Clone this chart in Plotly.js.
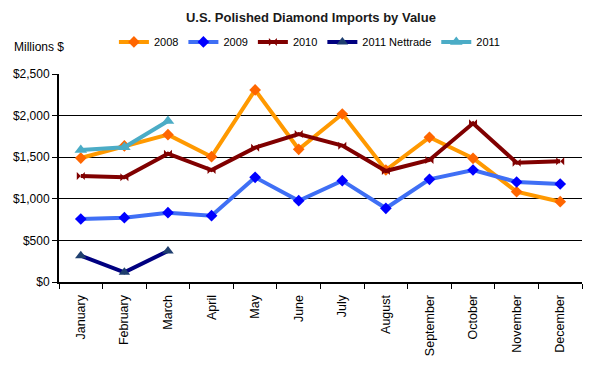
<!DOCTYPE html>
<html>
<head>
<meta charset="utf-8">
<script src="https://cdn.plot.ly/plotly-3.0.1.min.js"></script>
<style>html,body{margin:0;padding:0;background:#fff;}#chart{width:590px;height:370px;}</style>
</head>
<body>
<div id="chart"></div>
<script>
const months = ["January","February","March","April","May","June","July","August","September","October","November","December"];
const v2008 = [1490, 1635, 1771, 1506, 2308, 1595, 2019, 1346, 1739, 1487, 1085, 965];
const v2009 = [757, 773, 833, 797, 1258, 977, 1218, 886, 1234, 1346, 1202, 1178];
const v2010 = [1274, 1258, 1542, 1346, 1615, 1779, 1639, 1334, 1466, 1907, 1434, 1450];
const v2011Net = [316, 117, 373];
const v2011 = [1587, 1619, 1935];
const yTicks = [0, 500, 1000, 1500, 2000, 2500];
const yTickText = ["$0", "$500", "$1,000", "$1,500", "$2,000", "$2,500"];

function series(name, y, lineColor, markerColor, symbol, size) {
  return {
    type: "scatter", mode: "lines+markers", name: name,
    x: months.slice(0, y.length), y: y,
    line: {color: lineColor, width: 4},
    marker: {color: markerColor, symbol: symbol, size: size, line: {width: 0}},
    cliponaxis: false
  };
}
const traces = [
  series("2008", v2008, "#FF9900", "#FF6600", "diamond", 9),
  series("2009", v2009, "#3F6FF5", "#0000FF", "diamond", 9),
  series("2010", v2010, "#800000", "#800000", "bowtie", 8),
  series("2011 Nettrade", v2011Net, "#000080", "#1F3F6F", "triangle-up", 10),
  series("2011", v2011, "#4BACC6", "#4BACC6", "triangle-up", 11)
];
const layout = {
  width: 590, height: 370,
  margin: {l: 59, r: 8, t: 74, b: 88},
  paper_bgcolor: "#fff", plot_bgcolor: "#fff",
  font: {family: "Arial, Liberation Sans, sans-serif", color: "#000", size: 12},
  title: {text: "<b>U.S. Polished Diamond Imports by Value</b>", x: 0.527, xanchor: "center", y: 0.954, yanchor: "middle", font: {size: 13, color: "#1a1a1a"}},
  showlegend: true,
  legend: {orientation: "h", x: 0.105, xanchor: "left", y: 1.154, yanchor: "middle", font: {size: 11}, itemwidth: 30, tracegroupgap: 0, bgcolor: "rgba(0,0,0,0)"},
  hovermode: false,
  xaxis: {
    type: "category", categoryorder: "array", categoryarray: months,
    range: [-0.5, 11.5],
    showline: true, linecolor: "#000", linewidth: 2,
    ticks: "outside", tickson: "boundaries", ticklen: 5, tickcolor: "#000", tickwidth: 1,
    tickangle: -90, tickfont: {size: 12.5}, ticklabelstandoff: 6, showgrid: false, zeroline: false
  },
  yaxis: {
    range: [0, 2500], tickvals: yTicks, ticktext: yTickText,
    showline: true, linecolor: "#000", linewidth: 2,
    ticks: "outside", ticklen: 5, tickcolor: "#000",
    showgrid: true, gridcolor: "#000", gridwidth: 1, zeroline: false,
    tickfont: {size: 12}
  },
  annotations: [
    {text: "Millions $", xref: "paper", yref: "paper", x: -0.09, y: 1.13, xanchor: "left", yanchor: "middle", showarrow: false, font: {size: 12}}
  ]
};
Plotly.newPlot("chart", traces, layout, {displayModeBar: false, staticPlot: true});
</script>
</body>
</html>
